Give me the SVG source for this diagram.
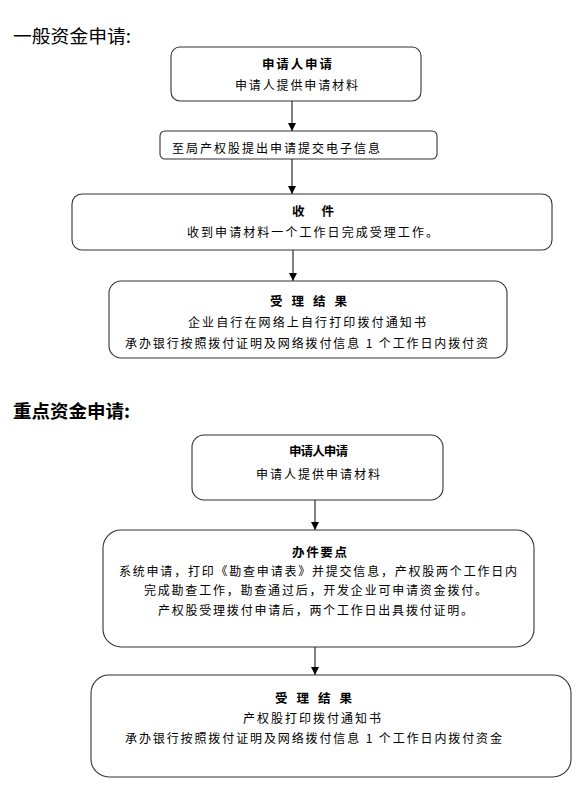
<svg xmlns="http://www.w3.org/2000/svg" width="588" height="789" viewBox="0 0 588 789">
<style>
text{font-family:"Noto Sans CJK SC","Liberation Sans",sans-serif;fill:#000}
.h{font-size:18px}
.hb{font-size:18px;font-weight:bold}
.t{font-size:12.5px;font-weight:bold}
.b{font-size:12px}
.box{fill:#fff;stroke:#333;stroke-width:1.1}
.c{stroke:#000;stroke-width:1;fill:none}
</style>
<defs>
<marker id="ah" viewBox="0 0 8 8" refX="8" refY="4" markerWidth="8" markerHeight="8" markerUnits="userSpaceOnUse" orient="auto">
<path d="M0,0 L8,4 L0,8 Z" fill="#000"/>
</marker>
</defs>
<rect width="588" height="789" fill="#fff"/>
<text class="h" x="13" y="43" textLength="118" lengthAdjust="spacingAndGlyphs">一般资金申请:</text>
<text class="hb" x="13" y="418" textLength="117" lengthAdjust="spacingAndGlyphs">重点资金申请:</text>
<g id="connectors">
<line class="c" x1="292" y1="101" x2="292" y2="131" marker-end="url(#ah)"/>
<line class="c" x1="292" y1="159" x2="292" y2="194" marker-end="url(#ah)"/>
<line class="c" x1="293" y1="250" x2="293" y2="281" marker-end="url(#ah)"/>
<line class="c" x1="315" y1="500" x2="315" y2="530" marker-end="url(#ah)"/>
<line class="c" x1="315" y1="647" x2="315" y2="675" marker-end="url(#ah)"/>
</g>
<g id="n1">
<rect class="box" x="171" y="47" width="250" height="54" rx="9"/>
<text class="t" x="262" y="69" textLength="70" lengthAdjust="spacing">申请人申请</text>
<text class="b" x="235" y="90" textLength="123" lengthAdjust="spacing">申请人提供申请材料</text>
</g>
<g id="n2">
<rect class="box" x="160" y="131" width="277" height="28" rx="5"/>
<text class="b" x="172" y="153" textLength="208" lengthAdjust="spacing">至局产权股提出申请提交电子信息</text>
</g>
<g id="n3">
<rect class="box" x="72" y="194" width="480" height="56" rx="10"/>
<text class="t" x="292" y="216" textLength="42" lengthAdjust="spacing">收 件</text>
<text class="b" x="187" y="237" textLength="251" lengthAdjust="spacing">收到申请材料一个工作日完成受理工作。</text>
</g>
<g id="n4">
<rect class="box" x="109" y="281" width="398" height="77" rx="12"/>
<text class="t" x="270" y="306" textLength="77" lengthAdjust="spacing">受 理 结 果</text>
<text class="b" x="188" y="327" textLength="238" lengthAdjust="spacing">企业自行在网络上自行打印拨付通知书</text>
<text class="b" x="125" y="348" textLength="363" lengthAdjust="spacing">承办银行按照拨付证明及网络拨付信息 1 个工作日内拨付资</text>
</g>
<g id="n5">
<rect class="box" x="192" y="435" width="251" height="65" rx="12"/>
<text class="t" x="289" y="456" font-size="12" textLength="59" lengthAdjust="spacing">申请人申请</text>
<text class="b" x="256" y="479" textLength="124" lengthAdjust="spacing">申请人提供申请材料</text>
</g>
<g id="n6">
<rect class="box" x="103" y="530" width="431" height="117" rx="18"/>
<text class="t" x="292" y="557" textLength="55" lengthAdjust="spacing">办件要点</text>
<text class="b" x="119" y="576" textLength="398" lengthAdjust="spacing">系统申请，打印《勘查申请表》并提交信息，产权股两个工作日内</text>
<text class="b" x="144" y="595" textLength="343" lengthAdjust="spacing">完成勘查工作，勘查通过后，开发企业可申请资金拨付。</text>
<text class="b" x="158" y="615" textLength="315" lengthAdjust="spacing">产权股受理拨付申请后，两个工作日出具拨付证明。</text>
</g>
<g id="n7">
<rect class="box" x="91" y="675" width="480" height="102" rx="18"/>
<text class="t" x="275" y="703" textLength="77" lengthAdjust="spacing">受 理 结 果</text>
<text class="b" x="243" y="723" textLength="138" lengthAdjust="spacing">产权股打印拨付通知书</text>
<text class="b" x="125" y="743" textLength="377" lengthAdjust="spacing">承办银行按照拨付证明及网络拨付信息 1 个工作日内拨付资金</text>
</g>
</svg>
